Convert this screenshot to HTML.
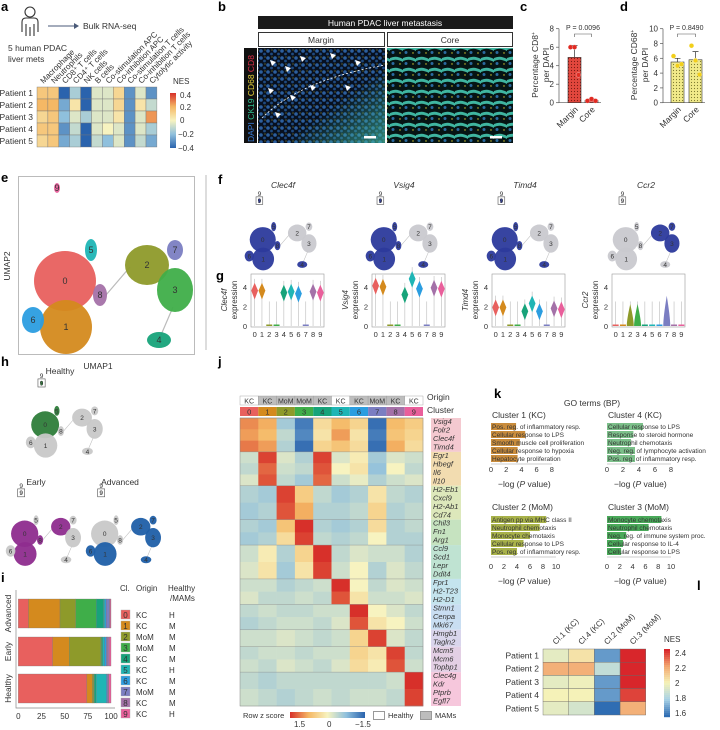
<!DOCTYPE html>
<html><head><meta charset="utf-8">
<style>
html,body{margin:0;padding:0;background:#fff;}
svg{display:block;font-family:"Liberation Sans",sans-serif;}
.pl{font-weight:bold;font-size:13px;fill:#000}
.t{font-size:8px;fill:#333}
</style></head>
<body>
<svg id="fig" width="720" height="730" viewBox="0 0 720 730" xmlns="http://www.w3.org/2000/svg">
<defs>
<pattern id="dotsRed" width="3" height="3" patternUnits="userSpaceOnUse"><rect width="3" height="3" fill="#e2473d"/><circle cx="1.5" cy="1.5" r="0.6" fill="#7a1a14"/></pattern>
<pattern id="dotsYel" width="3" height="3" patternUnits="userSpaceOnUse"><rect width="3" height="3" fill="#f1ea8a"/><circle cx="1.5" cy="1.5" r="0.6" fill="#7d7a30"/></pattern>
<pattern id="cellsBlue" width="7" height="7" patternUnits="userSpaceOnUse"><rect width="7" height="7" fill="#07101f"/><circle cx="2" cy="2" r="1.8" fill="#2c5f9e"/><circle cx="5.5" cy="5" r="1.4" fill="#1f4a80"/><circle cx="6" cy="1" r="0.5" fill="#d8c928"/></pattern>
<pattern id="cellsTeal" width="13" height="11" patternUnits="userSpaceOnUse"><rect width="13" height="11" fill="#061414"/><path d="M0 3 Q6 0 13 4 L13 7 Q6 3 0 6Z" fill="#3fb5a0"/><circle cx="3" cy="8.5" r="1.5" fill="#2a6aa0"/><circle cx="10" cy="9" r="0.7" fill="#e0d030"/></pattern>
<linearGradient id="tealFade" x1="0" y1="0" x2="1" y2="1"><stop offset="0.6" stop-color="#3fb5a0" stop-opacity="0"/><stop offset="1" stop-color="#3fb5a0" stop-opacity="0.7"/></linearGradient>
<linearGradient id="nesA" x1="0" y1="0" x2="0" y2="1"><stop offset="0" stop-color="#d7302a"/><stop offset="0.25" stop-color="#f5b865"/><stop offset="0.5" stop-color="#f7f3c0"/><stop offset="0.75" stop-color="#8fc0dd"/><stop offset="1" stop-color="#2a63ad"/></linearGradient>
<linearGradient id="zj" x1="0" y1="0" x2="1" y2="0"><stop offset="0" stop-color="#d7302a"/><stop offset="0.25" stop-color="#f5b865"/><stop offset="0.5" stop-color="#f7f3c0"/><stop offset="0.75" stop-color="#8fc0dd"/><stop offset="1" stop-color="#2a63ad"/></linearGradient>
</defs>

<text class="pl" x="1" y="11">a</text>
<g fill="none" stroke="#333" stroke-width="1.1">
<circle cx="30" cy="12" r="5"/>
<path d="M22 32 V22 Q22 18 26 18 H34 Q38 18 38 22 V32 M26 24 V36 M34 24 V36 M30 27 V36"/>
</g>
<g><line x1="48" y1="26" x2="74" y2="26" stroke="#4a5a78" stroke-width="1"/><path d="M74 23 L79 26 L74 29Z" fill="#4a5a78"/></g>
<text x="83" y="29" font-size="8.5" fill="#333">Bulk RNA-seq</text>
<text x="8" y="51" font-size="8.5" fill="#333">5 human PDAC</text>
<text x="8" y="62" font-size="8.5" fill="#333">liver mets</text>
<g id="hmA"></g>
<text x="173" y="84" font-size="8" fill="#333">NES</text>
<rect x="170" y="93" width="6" height="55" fill="url(#nesA)"/>
<g>
<text x="180" y="98" class="t">0.4</text><text x="180" y="110" class="t">0.2</text><text x="180" y="123" class="t">0</text><text x="178" y="137" class="t">−0.2</text><text x="178" y="151" class="t">−0.4</text></g>

<text class="pl" x="218" y="11">b</text>
<rect x="258" y="16" width="255" height="13" fill="#1a1a1a"/>
<text x="385" y="26" font-size="8.5" fill="#fff" text-anchor="middle">Human PDAC liver metastasis</text>
<rect x="258.5" y="32.5" width="126" height="14" fill="#fff" stroke="#333"/>
<text x="321" y="43" font-size="8.5" fill="#333" text-anchor="middle">Margin</text>
<rect x="387.5" y="32.5" width="125" height="14" fill="#fff" stroke="#333"/>
<text x="450" y="43" font-size="8.5" fill="#333" text-anchor="middle">Core</text>
<rect x="244" y="48" width="13" height="95" fill="#111"/>
<text transform="translate(254,142) rotate(-90)" font-size="8.5"><tspan fill="#3a7bd5">DAPI </tspan><tspan fill="#2fbf8f">CK19 </tspan><tspan fill="#e6d23a">CD68 </tspan><tspan fill="#e0304a">CD8</tspan></text>
<g>
<rect x="258" y="48" width="127" height="95" fill="url(#cellsBlue)"/>
<rect x="258" y="48" width="127" height="95" fill="url(#tealFade)"/>
<path d="M262 118 Q300 80 385 65" fill="none" stroke="#fff" stroke-width="0.8" stroke-dasharray="2,2"/>
<g fill="#fff"><path d="M270 60 l6 2 -4 4z"/><path d="M300 56 l6 2 -4 4z"/><path d="M330 53 l6 2 -4 4z"/><path d="M355 60 l6 2 -4 4z"/><path d="M268 88 l6 2 -4 4z"/><path d="M310 85 l6 2 -4 4z"/><path d="M290 95 l6 2 -4 4z"/><path d="M345 85 l6 2 -4 4z"/><path d="M275 112 l6 2 -4 4z"/><path d="M285 66 l6 2 -4 4z"/></g>
<rect x="364" y="136" width="12" height="2.5" fill="#fff"/>
</g>
<g>
<rect x="387" y="48" width="126" height="95" fill="url(#cellsTeal)"/>
<rect x="490" y="136" width="12" height="2.5" fill="#fff"/>
</g>

<text class="pl" x="520" y="11">c</text>
<g id="barC"></g>
<text transform="translate(538,65) rotate(-90)" font-size="8.5" fill="#333" text-anchor="middle">Percentage CD8<tspan font-size="5" dy="-3">+</tspan></text>
<text transform="translate(549,65) rotate(-90)" font-size="8.5" fill="#333" text-anchor="middle">per DAPI</text>
<text class="pl" x="620" y="11">d</text>
<g id="barD"></g>
<text transform="translate(637,65) rotate(-90)" font-size="8.5" fill="#333" text-anchor="middle">Percentage CD68<tspan font-size="5" dy="-3">+</tspan></text>
<text transform="translate(648,65) rotate(-90)" font-size="8.5" fill="#333" text-anchor="middle">per DAPI</text>

<text class="pl" x="1" y="182">e</text>
<rect x="18.5" y="176.5" width="176" height="178" fill="none" stroke="#bbb"/>
<g id="umapE"></g>
<text x="98" y="369" font-size="8.5" fill="#333" text-anchor="middle">UMAP1</text>
<text transform="translate(10,266) rotate(-90)" font-size="8.5" fill="#333" text-anchor="middle">UMAP2</text>
<line x1="206" y1="175" x2="206" y2="350" stroke="#ddd" stroke-width="2"/>

<text class="pl" x="218" y="184">f</text>
<text class="pl" x="216" y="280">g</text>
<g id="fg"></g>

<text class="pl" x="1" y="366">h</text>
<text x="60" y="374" font-size="8.5" fill="#333" text-anchor="middle">Healthy</text>
<text x="36" y="485" font-size="8.5" fill="#333" text-anchor="middle">Early</text>
<text x="120" y="485" font-size="8.5" fill="#333" text-anchor="middle">Advanced</text>
<g id="umapH"></g>

<text class="pl" x="1" y="582">i</text>
<g id="barI"></g>

<text class="pl" x="218" y="366">j</text>
<g id="hmJ"></g>
<text x="427" y="400" font-size="8.5" fill="#333">Origin</text>
<text x="427" y="413" font-size="8.5" fill="#333">Cluster</text>
<text x="243" y="718" font-size="7.5" fill="#333">Row z score</text>
<rect x="290" y="712" width="75" height="6" fill="url(#zj)"/>
<g><text x="294" y="727" class="t">1.5</text><text x="327" y="727" class="t">0</text><text x="355" y="727" class="t">−1.5</text></g>
<rect x="373.5" y="711.5" width="11" height="8" fill="#fff" stroke="#999"/>
<text x="388" y="718" font-size="7.5" fill="#333">Healthy</text>
<rect x="420.5" y="711.5" width="11" height="8" fill="#bdbdbd" stroke="#999"/>
<text x="435" y="718" font-size="7.5" fill="#333">MAMs</text>

<text class="pl" x="494" y="398">k</text>
<text x="592" y="406" font-size="8.5" fill="#333" text-anchor="middle">GO terms (BP)</text>
<g id="goK"></g>

<text class="pl" x="697" y="590">l</text>
<g id="hmL"></g>
<text x="664" y="642" font-size="8" fill="#333">NES</text>
<g id="cbL"></g>
</svg>

<script>
const aRows = ["Patient 1","Patient 2","Patient 3","Patient 4","Patient 5"];
const aCols = ["Macrophage","Neutrophils","CD8\u207A T cells","CD4\u207A T cells","NK cells","B cells","Co-stimulation APC","Co-inhibition APC","Co-stimulation T cells","Co-inhibition T cells","Cytolytic activity"];
const aP1 = [0.15,0.15,-0.4,-0.15,-0.4,-0.05,-0.05,0.1,-0.3,-0.05,-0.3];
const aP2 = [0.2,0.2,-0.25,0.05,-0.4,-0.05,-0.05,0.1,-0.3,0.05,-0.1];
const aP3 = [0.1,0.15,-0.2,-0.05,-0.15,-0.05,-0.05,0.05,-0.3,-0.05,0.25];
const aP4 = [0.15,0.15,-0.3,-0.1,-0.4,-0.05,0,-0.05,-0.3,-0.05,-0.15];
const aP5 = [0.1,0.15,-0.25,-0.15,-0.4,-0.1,-0.2,-0.05,-0.3,-0.1,-0.25];

const cCats = ["Margin","Core"];
const cMeans = [4.9,0.25];
const cErr = [1.3,0.15];
const cDotsMargin = [6,6,3];
const cDotsCore = [0.2,0.4,0.2];
const cTicks = [0,2,4,6,8];
const cP = "P = 0.0096";
const dMeans = [5.5,5.8];
const dErr = [0.5,1.1];
const dDotsMargin = [6.3,5.0,5.2];
const dDotsCore = [7.7,5.7,3.8];
const dTicks = [0,2,4,6,8,10];
const dP = "P = 0.8490";

const clusterIds = [0,1,2,3,4,5,6,7,8,9];
const clusterColors = ["#e8605e","#d48a1e","#8e9a2a","#3fae49","#17a37a","#1fb5b5","#2b9de0","#7b7ec2","#a471a8","#e95f9b"];
const clusterOrigin = ["KC","KC","MoM","MoM","KC","KC","KC","MoM","KC","KC"];
const clusterHM = ["H","M","M","M","M","H","M","M","M","H"];

const gGenes = ["Clec4f","Vsig4","Timd4","Ccr2"];
const gClec4f = [3.6,3.6,0.05,0,3.4,3.5,3.3,0,3.5,3.4];
const gVsig4 = [4.1,4.0,0.05,0,3.2,4.8,3.8,0,3.9,3.8];
const gTimd4 = [1.9,1.9,0,0,1.5,2.3,1.5,0,1.8,1.7];
const gCcr2 = [0,0,0.8,0.8,0,0,0,1.1,0,0];
const gTicks = [0,2,4];

const iGroups = ["Advanced","Early","Healthy"];
const iAdvanced = [11,34,17,22,8,1.5,1.5,3,1,1];
const iEarly = [37,18,34,1,1,2,2,1,2,2];
const iHealthy = [74,6,1.5,0.5,2,11,1,1,0.5,2.5];
const iTicks = [0,25,50,75,100];

const jGroups = [["Vsig4","Folr2","Clec4f","Timd4"],["Egr1","Hbegf","Il6","Il10"],["H2-Eb1","Cxcl9","H2-Ab1","Cd74"],["Chil3","Fn1","Arg1"],["Ccl9","Scd1","Lepr","Ddit4"],["Fpr1","H2-T23","H2-D1"],["Stmn1","Cenpa","Mki67"],["Hmgb1","Tagln2"],["Mcm5","Mcm6","Topbp1"],["Clec4g","Kdr","Ptprb","Egfl7"]];
const jGroupColors = ["#f4c9d0","#f2dcb0","#dde8bb","#c6e3c0","#bfe3d2","#c4e4ee","#c9def2","#d9d5ec","#e3cfe4","#f6c7dc"];
const jZ = [
[1.0,0.8,-0.6,-1.3,0.3,0.7,0.4,-1.4,0.7,0.5],
[0.9,0.7,-0.4,-1.2,0.2,0.9,0.2,-1.3,0.6,0.4],
[1.1,0.9,-0.5,-1.4,0.4,0.6,0.3,-1.4,0.8,0.3],
[-0.3,1.4,-0.2,-0.5,1.4,-0.2,0.1,-0.6,-0.2,-0.3],
[-0.4,1.2,-0.3,-0.4,1.3,0.0,0.2,-0.7,0.0,-0.4],
[-0.2,1.3,-0.4,-0.6,1.2,-0.3,-0.1,-0.5,-0.3,-0.2],
[-0.5,-0.6,1.4,0.5,-0.4,-0.6,-0.5,0.2,-0.4,-0.5],
[-0.6,-0.5,1.3,0.8,-0.5,-0.5,-0.4,0.4,-0.5,-0.4],
[-0.5,-0.6,0.6,1.5,-0.5,-0.6,-0.5,0.3,-0.5,-0.4],
[-0.6,-0.5,0.3,1.4,-0.4,-0.5,-0.4,0.0,-0.5,-0.5],
[-0.3,0.1,-0.5,0.4,1.5,-0.4,-0.2,-0.3,-0.3,-0.5],
[-0.2,0.2,-0.6,0.2,1.4,-0.3,0.0,-0.5,-0.2,-0.4],
[-0.3,-0.3,-0.5,-0.4,-0.3,1.5,0.0,-0.4,-0.2,-0.3],
[-0.2,-0.4,-0.4,-0.3,-0.4,1.3,0.2,-0.3,-0.3,-0.2],
[-0.4,-0.3,-0.4,-0.4,-0.3,-0.3,1.5,0.0,-0.2,-0.4],
[-0.5,-0.4,-0.3,-0.3,-0.4,-0.2,1.3,0.2,0.0,-0.3],
[-0.3,-0.3,-0.2,-0.3,-0.4,-0.3,0.4,1.4,-0.2,-0.4],
[-0.4,-0.3,-0.3,-0.4,-0.3,-0.3,0.4,0.2,1.4,-0.4],
[-0.3,-0.4,-0.2,-0.3,-0.4,-0.2,0.3,0.1,1.3,-0.3],
[-0.4,-0.5,-0.4,-0.4,-0.4,-0.4,-0.4,-0.4,-0.3,1.5],
[-0.3,-0.4,-0.5,-0.4,-0.3,-0.4,-0.3,-0.3,-0.4,1.4]
];
const jRowsPerGroup = [3,3,2,2,2,2,2,1,2,2];

const kTitles = ["Cluster 1 (KC)","Cluster 4 (KC)","Cluster 2 (MoM)","Cluster 3 (MoM)"];
const kTerms1 = ["Pos. reg. of inflammatory resp.","Cellular response to LPS","Smooth muscle cell proliferation","Cellular response to hypoxia","Hepatocyte proliferation"];
const kVals1 = [3.3,4.5,3.8,3.5,3.5];
const kTerms4 = ["Cellular response to LPS","Response to steroid hormone","Neutrophil chemotaxis","Neg. reg. of lymphocyte activation","Pos. reg. of inflammatory resp."];
const kVals4 = [4.5,3.3,3.0,3.5,3.5];
const kTerms2 = ["Antigen pp via MHC class II","Neutrophil chemotaxis","Monocyte chemotaxis","Cellular response to LPS","Pos. reg. of inflammatory resp."];
const kVals2 = [8.5,7.5,6.0,5.0,4.0];
const kTerms3 = ["Monocyte chemotaxis","Neutrophil chemotaxis","Neg. reg. of immune system proc.","Cellular response to IL-4","Cellular response to LPS"];
const kVals3 = [8.5,6.5,3.0,2.5,2.2];
const kTicks8 = [0,2,4,6,8];
const kTicks10 = [0,2,4,6,8,10];

const lRows = ["Patient 1","Patient 2","Patient 3","Patient 4","Patient 5"];
const lCols = ["Cl.1 (KC)","Cl.4 (KC)","Cl.2 (MoM)","Cl.3 (MoM)"];
const lP1 = [1.95,2.05,1.65,2.45];
const lP2 = [2.2,2.2,1.85,2.45];
const lP3 = [1.95,1.98,1.65,2.45];
const lP4 = [2.0,2.0,1.65,2.4];
const lP5 = [1.95,1.9,1.55,2.2];
const lTicks = [1.6,1.8,2,2.2,2.4];

const NS = "http://www.w3.org/2000/svg";
function mk(tag, parent, attrs){ const e=document.createElementNS(NS,tag); for(const k in attrs) e.setAttribute(k,attrs[k]); parent.appendChild(e); return e; }
function hex(c){return [parseInt(c.slice(1,3),16),parseInt(c.slice(3,5),16),parseInt(c.slice(5,7),16)];}
function lerpColor(stops, t){ t=Math.max(0,Math.min(1,t)); const n=stops.length-1; const i=Math.min(n-1,Math.floor(t*n)); const f=t*n-i; const a=hex(stops[i]), b=hex(stops[i+1]); return "rgb("+a.map((v,k)=>Math.round(v+(b[k]-v)*f)).join(",")+")"; }
const divStops = ["#2a63ad","#8fc0dd","#f7f3c0","#f5b865","#d7302a"];
function txt(parent,x,y,s,attrs){ const e=mk("text",parent,Object.assign({x:x,y:y,"font-size":8,fill:"#333"},attrs||{})); e.textContent=s; return e; }

(function(){
  const g=document.getElementById("hmA");
  const x0=37,y0=87,cw=10.9,ch=12;
  const rows=[aP1,aP2,aP3,aP4,aP5];
  const xs=i=>x0+i*cw, ys=r=>y0+r*ch, col=v=>lerpColor(divStops,(v+0.4)/0.8);
  rows.forEach((vals,r)=>{
    vals.forEach((v,i)=>{
      const c=mk("rect",g,{x:xs(i),y:ys(r),width:cw,height:ch,fill:col(v),stroke:"#777","stroke-width":0.4});
      
      
    });
    const t=txt(g,33,ys(r)+9,aRows[r],{"text-anchor":"end","font-size":8.5});
    
    
  });
  aCols.forEach((s,i)=>{
    const t=txt(g,0,0,s,{transform:"translate("+(xs(i)+cw/2+1)+",84) rotate(-45)","font-size":8});
    
    
  });
})();

function barPanel(id, axisX, maxV, ticks, means, errs, dotsM, dotsC, fillId, dotColor, barX, pLabel){
  const g=document.getElementById(id);
  const yTop=28.7,yBot=102.7, ys=v=>yBot-(v/maxV)*(yBot-yTop);
  const ax=mk("line",g,{x1:axisX,y1:yTop,x2:axisX,y2:yBot,stroke:"#555","stroke-width":0.7});
  
  
  const bx=mk("line",g,{x1:axisX,y1:yBot,x2:barX[1]+16,y2:yBot,stroke:"#555","stroke-width":0.7});
  
  
  ticks.forEach(v=>{
    const tk=mk("line",g,{x1:axisX-3,y1:ys(v),x2:axisX,y2:ys(v),stroke:"#555","stroke-width":0.7});
    
    
    const tl=txt(g,axisX-5,ys(v)+3,String(v),{"text-anchor":"end","font-size":8});
    
    
  });
  [dotsM,dotsC].forEach((dots,k)=>{
    const x=barX[k], w=13;
    const b=mk("rect",g,{x:x,y:ys(means[k]),width:w,height:yBot-ys(means[k]),fill:"url(#"+fillId+")",stroke:"#333","stroke-width":0.6});
    
    
    const e=mk("path",g,{d:"M"+(x+w/2)+" "+ys(means[k])+" V"+ys(means[k]+errs[k])+" M"+(x+w/2-3)+" "+ys(means[k]+errs[k])+" H"+(x+w/2+3),stroke:"#333","stroke-width":0.7,fill:"none"});
    
    
    const offs=[-4,0,4];
    dots.forEach((v,j)=>{
      const d=mk("circle",g,{cx:x+w/2+offs[j],cy:ys(v),r:2.4,fill:dotColor,stroke:"#fff","stroke-width":0.3});
      
      
    });
    const xl=txt(g,0,0,cCats[k],{transform:"translate("+(x+w/2+4)+",110) rotate(-45)","text-anchor":"end","font-size":8.5});
    
    
  });
  const br=mk("path",g,{d:"M"+(barX[0]+6.5)+" 37 V34 H"+(barX[1]+6.5)+" V37",stroke:"#555","stroke-width":0.6,fill:"none"});
  
  
  const pl=txt(g,(barX[0]+barX[1])/2+6.5,30,pLabel,{"text-anchor":"middle","font-size":7});
  
  
}
barPanel("barC",559,8,cTicks,cMeans,cErr,cDotsMargin,cDotsCore,"dotsRed","#e02a22",[568,585],cP);
barPanel("barD",663,10,dTicks,dMeans,dErr,dDotsMargin,dDotsCore,"dotsYel","#f2cf1a",[671,689],dP);

const umapCx=[47,48,129,157,141,73,15,157,82,39];
const umapCy=[104,150,88,113,163,73,143,73,118,11];
const umapRx=[31,26,22,18,12,6,11,8,7,3];
const umapRy=[30,27,20,22,8,11,13,10,11,5];
function drawUmap(g, ox, oy, s, colorFn, labels, showBox){
  const lk=mk("path",g,{d:"M"+(ox+88*s)+" "+(oy+118*s)+" L"+(ox+112*s)+" "+(oy+90*s)+" M"+(ox+155*s)+" "+(oy+130*s)+" L"+(ox+143*s)+" "+(oy+158*s),stroke:"#bbb","stroke-width":Math.max(0.5,1.2*s),fill:"none"});
  
  
  clusterIds.forEach(i=>{
    const e=mk("ellipse",g,{cx:ox+umapCx[i]*s,cy:oy+umapCy[i]*s,rx:umapRx[i]*s,ry:umapRy[i]*s,fill:colorFn(i),opacity:0.95});
    
    
    if(labels){
      const t=txt(g,ox+umapCx[i]*s,oy+umapCy[i]*s+3*Math.max(s,0.8),String(i),{"text-anchor":"middle","font-size":s>0.8?9:6.5,fill:"#333"});
      
      
    }
  });
  if(showBox){
    const b=mk("rect",g,{x:ox+(umapCx[9]-8)*s,y:oy+(umapCy[9]-9)*s,width:16*s,height:18*s,fill:"none",stroke:"#555","stroke-width":0.6});
    
    
    const t=txt(g,ox+umapCx[9]*s,oy+(umapCy[9]-11)*s,"9",{"text-anchor":"middle","font-size":6.5});
    
    
  }
}
drawUmap(document.getElementById("umapE"),18,177,1,i=>clusterColors[i],true,false);

(function(){
  const g=document.getElementById("fg");
  const fx=[243,364,485,606];
  const exprSets=[[0,1,4,5,6,8,9],[0,1,4,5,6,8,9],[0,1,4,5,6,8,9],[2,3,7]];
  const vals=[gClec4f,gVsig4,gTimd4,gCcr2];
  const gx=[251,372,492,612];
  gGenes.forEach((gene,k)=>{
    const t=txt(g,fx[k]+40,188,gene,{"text-anchor":"middle","font-size":8.5,"font-style":"italic"});
    
    
    drawUmap(g,fx[k],196,0.42,i=>exprSets[k].indexOf(i)>=0?"#2c3a9c":"#c9c9cf",true,true);
    const x0=gx[k], x1=x0+73, yT=274, yB=327, ys=v=>326-(v/5.3)*52;
    const fr=mk("rect",g,{x:x0,y:yT,width:x1-x0,height:yB-yT,fill:"none",stroke:"#999","stroke-width":0.6});
    
    
    gTicks.forEach(v=>{
      const tl=txt(g,x0-4,ys(v)+3,String(v),{"text-anchor":"end","font-size":7.5});
      
      
    });
    const yl=txt(g,0,0,gene,{transform:"translate("+(x0-24)+",300) rotate(-90)","text-anchor":"middle","font-size":8,"font-style":"italic"});
    
    
    const yl2=txt(g,0,0,"expression",{transform:"translate("+(x0-14)+",300) rotate(-90)","text-anchor":"middle","font-size":8});
    
    
    const cw=(x1-x0)/10;
    vals[k].forEach((v,i)=>{
      const cx=x0+cw*(i+0.5);
      const tail=mk("line",g,{x1:cx,y1:ys(0),x2:cx,y2:ys(Math.max(v+1.2,2.5)),stroke:"#bbb","stroke-width":0.6});
      
      
      let vi;
      if(v>0.5 && k<3){
        vi=mk("path",g,{d:"M"+cx+" "+ys(v+0.8)+" L"+(cx+3.4)+" "+ys(v)+" L"+cx+" "+ys(v-0.9)+" L"+(cx-3.4)+" "+ys(v)+"Z",fill:clusterColors[i]});
      } else if(v>0.5){
        vi=mk("path",g,{d:"M"+cx+" "+ys(v*2.8)+" Q"+(cx+3.5)+" "+ys(v*0.8)+" "+(cx+3.5)+" "+ys(0)+" H"+(cx-3.5)+" Q"+(cx-3.5)+" "+ys(v*0.8)+" "+cx+" "+ys(v*2.8)+"Z",fill:clusterColors[i]});
      } else {
        vi=mk("rect",g,{x:cx-3,y:ys(0)-1.5,width:6,height:1.5,fill:clusterColors[i]});
      }
      
      
      const cl=txt(g,cx,337,String(i),{"text-anchor":"middle","font-size":7.5});
      
      
    });
  });
})();

(function(){
  const g=document.getElementById("umapH");
  const hSets=[[0,5,9],[0,1,2,8],[1,6,2,3,4,7]];
  const hCol=["#2e7d3a","#8e2c8e","#1f5fa8"];
  const pos=[[24,378,0.45],[4,488,0.44],[84,488,0.44]];
  pos.forEach((p,k)=>{
    drawUmap(g,p[0],p[1],p[2],i=>hSets[k].indexOf(i)>=0?hCol[k]:"#c8c8c8",true,true);
  });
})();

(function(){
  const g=document.getElementById("barI");
  const x0=18.3,x1=111, xs=v=>x0+(v/100)*(x1-x0);
  const yTop=[599,637,674], bh=29;
  const fr=mk("path",g,{d:"M16 590 V708 H115",stroke:"#888","stroke-width":0.7,fill:"none"});
  
  
  [iAdvanced,iEarly,iHealthy].forEach((vals,r)=>{
    let acc=0;
    vals.forEach((v,i)=>{
      const b=mk("rect",g,{x:xs(acc),y:yTop[r],width:xs(acc+v)-xs(acc),height:bh,fill:clusterColors[i],stroke:"#777","stroke-width":0.3});
      
      
      acc+=v;
    });
    const t=txt(g,0,0,iGroups[r],{transform:"translate(11,"+(yTop[r]+bh/2)+") rotate(-90)","text-anchor":"middle","font-size":8.5});
    
    
  });
  iTicks.forEach(v=>{
    const t=txt(g,xs(v),719,String(v),{"text-anchor":"middle","font-size":8});
    
    
  });
  const hdr=[["Cl.",120,591],["Origin",136,591],["Healthy",168,591],["/MAMs",170,601]];
  hdr.forEach(h=>{
    const t=txt(g,h[1],h[2],h[0],{"font-size":8});
    
    
  });
  clusterIds.forEach(i=>{
    const y=610+i*11;
    const sq=mk("rect",g,{x:121,y:y,width:9,height:9,fill:clusterColors[i],stroke:"#aaa","stroke-width":0.4});
    
    
    const n=txt(g,125.5,y+8,String(i),{"text-anchor":"middle","font-size":8});
    
    
    const o=txt(g,136,y+8,clusterOrigin[i],{"font-size":8});
    
    
    const h=txt(g,169,y+8,clusterHM[i],{"font-size":8});
    
    
  });
})();

(function(){
  const g=document.getElementById("hmJ");
  const x0=240,cw=18.3,yStart=418,yEnd=706;
  const xs=i=>x0+i*cw;
  clusterIds.forEach(i=>{
    const o=mk("rect",g,{x:xs(i),y:396,width:cw,height:9,fill:clusterHM[i]==="H"?"#fff":"#bdbdbd",stroke:"#999","stroke-width":0.4});
    
    
    const ot=txt(g,xs(i)+cw/2,403.5,clusterOrigin[i],{"text-anchor":"middle","font-size":7});
    
    
    const c=mk("rect",g,{x:xs(i),y:407,width:cw,height:9,fill:clusterColors[i]});
    
    
    const ct=txt(g,xs(i)+cw/2,414.5,String(i),{"text-anchor":"middle","font-size":7.5});
    
    
  });
  const totalGenes=jGroups.reduce((a,b)=>a+b.length,0);
  const gh=(yEnd-yStart)/totalGenes;
  let gy=yStart, rowIdx=0;
  jGroups.forEach((genes,k)=>{
    const h=genes.length*gh, nr=jRowsPerGroup[k], rh=h/nr;
    for(let r=0;r<nr;r++){
      const vals=jZ[rowIdx++];
      vals.forEach((v,i)=>{
        const c=mk("rect",g,{x:xs(i),y:gy+r*rh,width:cw+0.3,height:rh+0.3,fill:lerpColor(divStops,(v+1.5)/3)});
        
        
      });
    }
    const bx=mk("rect",g,{x:431,y:gy,width:30,height:h,fill:jGroupColors[k]});
    
    
    genes.forEach((s,j)=>{
      const t=txt(g,433,gy+gh*j+gh*0.72,s,{"font-size":7.5,"font-style":"italic"});
      
      
    });
    const sep=mk("line",g,{x1:x0,y1:gy,x2:x0+10*cw,y2:gy,stroke:"#888","stroke-width":0.4});
    
    
    gy+=h;
  });
  const fr=mk("rect",g,{x:x0,y:yStart,width:10*cw,height:yEnd-yStart,fill:"none",stroke:"#888","stroke-width":0.5});
  
  
})();

(function(){
  const g=document.getElementById("goK");
  const panels=[
    {t:kTitles[0],terms:kTerms1,vals:kVals1,x0:490,ty:418,by:423,ay:472,pp:7.6,ticks:kTicks8,col:"#c98c3c"},
    {t:kTitles[1],terms:kTerms4,vals:kVals4,x0:606,ty:418,by:423,ay:472,pp:8,ticks:kTicks8,col:"#7cc08a"},
    {t:kTitles[2],terms:kTerms2,vals:kVals2,x0:490,ty:510,by:516,ay:569,pp:6.5,ticks:kTicks10,col:"#a8b24a"},
    {t:kTitles[3],terms:kTerms3,vals:kVals3,x0:606,ty:510,by:516,ay:569,pp:6.4,ticks:kTicks10,col:"#4aaa5a"}
  ];
  panels.forEach(p=>{
    const tt=txt(g,p.x0+2,p.ty,p.t,{"font-size":8.5});
    
    
    p.vals.forEach((v,j)=>{
      const y=p.by+j*8;
      const b=mk("rect",g,{x:p.x0+1,y:y,width:v*p.pp,height:7,fill:p.col});
      
      
      const t=txt(g,p.x0+2,y+6,p.terms[j],{"font-size":6.5,fill:"#333"});
      
      
    });
    const ax=mk("line",g,{x1:p.x0+1,y1:p.by+41,x2:p.x0+1+p.ticks[p.ticks.length-1]*p.pp,y2:p.by+41,stroke:"#999","stroke-width":0.5});
    
    
    p.ticks.forEach(v=>{
      const t=txt(g,p.x0+1+v*p.pp,p.ay,String(v),{"text-anchor":"middle","font-size":7.5});
      
      
    });
    const xl=txt(g,p.x0+8,p.ay+15,"",{"font-size":8.5});
    xl.innerHTML="\u2212log (<tspan font-style='italic'>P</tspan> value)";
    
    
  });
})();

(function(){
  const g=document.getElementById("hmL");
  const x0=543,y0=649,cw=25.7,ch=13.2;
  const lStops=["#2f6db3","#a9d2e6","#f5f2b8","#f3a870","#d8262b"];
  const col=v=>lerpColor(lStops,(v-1.55)/(2.45-1.55));
  [lP1,lP2,lP3,lP4,lP5].forEach((vals,r)=>{
    vals.forEach((v,i)=>{
      const c=mk("rect",g,{x:x0+i*cw,y:y0+r*ch,width:cw,height:ch,fill:col(v),stroke:"#666","stroke-width":0.4});
      
      
    });
    const t=txt(g,539,y0+r*ch+9.5,lRows[r],{"text-anchor":"end","font-size":8.5});
    
    
  });
  lCols.forEach((s,i)=>{
    const t=txt(g,0,0,s,{transform:"translate("+(x0+i*cw+cw/2)+",645) rotate(-45)","font-size":8});
    
    
  });
  const cb=document.getElementById("cbL");
  const n=34;
  for(let k=0;k<n;k++){
    const v=2.45-(k/(n-1))*(2.45-1.55);
    const r=mk("rect",cb,{x:664,y:649+k*2,width:6,height:2.2,fill:col(v)});
    
    
  }
  lTicks.forEach(v=>{
    const y=649+((2.45-v)/(2.45-1.55))*68;
    const t=txt(cb,675,y+3,String(v),{"font-size":8});
    
    
  });
})();
</script>
</body></html>
